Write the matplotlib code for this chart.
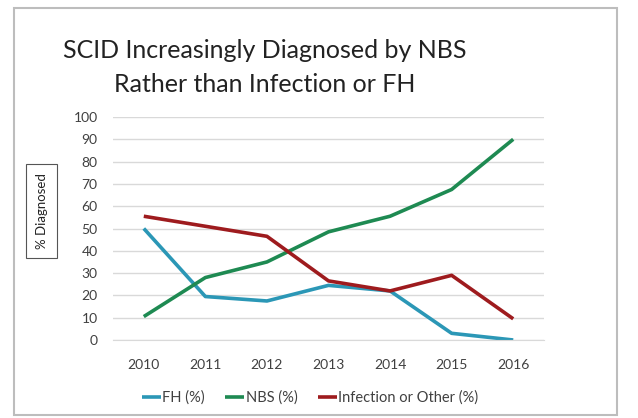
import matplotlib.pyplot as plt
from matplotlib.patches import Rectangle

plt.rcParams['font.family'] = ['Lato', 'DejaVu Sans']

years = ['2010', '2011', '2012', '2013', '2014', '2015', '2016']
fh = [50, 19.5, 17.5, 24.5, 22, 3, 0]
nbs = [10.5, 28, 35, 48.5, 55.5, 67.5, 90]
infection = [55.5, 51, 46.5, 26.5, 22, 29, 9.5]

colors = {'FH (%)': '#2b97b6', 'NBS (%)': '#1e8a52', 'Infection or Other (%)': '#9e1b1e'}

fig = plt.figure(figsize=(6.38, 4.18), dpi=100)

# 外框
frame = Rectangle((14 / 638, 1 - 415 / 418), 603 / 638, 407 / 418,
                  transform=fig.transFigure, fill=False,
                  edgecolor='#bdbdbd', linewidth=1.5)
fig.patches.append(frame)

ax = fig.add_axes([113 / 638, 1 - 340 / 418, 431 / 638, 223 / 418])
x = range(len(years))
for label, vals in [('FH (%)', fh), ('NBS (%)', nbs), ('Infection or Other (%)', infection)]:
    ax.plot(x, vals, color=colors[label], lw=2.6, label=label, solid_capstyle='butt')

ax.set_xlim(-0.5, len(years) - 0.5)
ax.set_ylim(0, 100)
ax.set_yticks(range(0, 101, 10))
ax.set_xticks(list(x))
ax.set_xticklabels(years)
ax.grid(axis='y', color='#d9d9d9', lw=1)
ax.set_axisbelow(True)
for s in ['top', 'right', 'left']:
    ax.spines[s].set_visible(False)
ax.spines['bottom'].set_color('#d9d9d9')
ax.tick_params(length=0, labelsize=10, colors='#404040', pad=11)
ax.tick_params(axis='x', pad=14)

fig.text(265 / 638, 1 - 50 / 418, 'SCID Increasingly Diagnosed by NBS', ha='center', va='center',
         fontsize=18, color='#222222')
fig.text(265 / 638, 1 - 84 / 418, 'Rather than Infection or FH', ha='center', va='center',
         fontsize=18, color='#222222')

fig.text(41.5 / 638, 1 - 211 / 418, '% Diagnosed', rotation=90, ha='center', va='center',
         fontsize=9.5, color='#222222',
         bbox=dict(boxstyle='square,pad=0.7', facecolor='white', edgecolor='#555555', lw=0.8))

ax.legend(loc='center', bbox_to_anchor=((310 - 113) / 431, -58 / 223), ncol=3, frameon=False,
          fontsize=10.5, handlelength=1.3, handletextpad=0.1, columnspacing=1.4,
          labelcolor='#404040')

fig.savefig('out.png', dpi=100)
